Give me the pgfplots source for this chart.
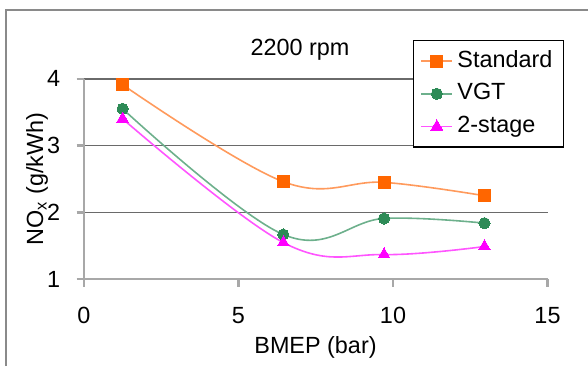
\documentclass[border=0pt]{standalone}
\usepackage{pgfplots}
\pgfplotsset{compat=1.18}
\usepackage{fontspec}
\setmainfont{Liberation Sans}
\definecolor{stdM}{HTML}{FF6600}
\definecolor{stdL}{HTML}{FF9A5C}
\definecolor{vgtM}{HTML}{2E8B57}
\definecolor{vgtL}{HTML}{6DB08C}
\definecolor{twoM}{HTML}{FF00FF}
\definecolor{twoL}{HTML}{FF55FF}
\definecolor{gridc}{HTML}{6A6A6A}
\definecolor{axc}{HTML}{A8A8A8}
\definecolor{framec}{HTML}{8A8A8A}
\begin{document}
\fontsize{11.7}{14}\selectfont
\begin{tikzpicture}
\useasboundingbox (0,0) rectangle (294pt,183pt);
\draw[framec, line width=0.7pt] (3pt,0pt) -- (3pt,178pt) -- (300pt,178pt);
\begin{axis}[
  at={(42pt,43.35pt)}, anchor=south west,
  scale only axis, width=231.75pt, height=100.3pt,
  xmin=0, xmax=15, ymin=1, ymax=4,
  xtick={0,5,10,15}, ytick={1,2,3,4},
  axis x line*=bottom, axis y line*=left,
  axis line style={axc, line width=1.1pt},
  tick align=outside, major tick length=3.75pt,
  tick style={axc, line width=1.1pt},
  ymajorgrids, major grid style={gridc, line width=0.8pt},
  /pgf/number format/assume math mode=true,
  ticklabel style={font=\fontsize{11.7}{14}\selectfont},
  xticklabel style={anchor=north, inner sep=0pt, yshift=-10pt},
  yticklabel style={anchor=east, inner sep=0pt, xshift=-8pt},
  legend style={at={(0.71,1.193)}, anchor=north west, draw=black, line width=0.6pt,
    fill=white, font=\fontsize{11.7}{14}\selectfont, row sep=0pt,
    nodes={inner sep=2.2pt, text height=9pt, text depth=3pt},
    inner xsep=3.5pt},
  legend cell align=left,
  legend image code/.code={\draw[mark repeat=2,mark phase=2,#1] plot coordinates {(0cm,0cm) (0.27cm,0cm) (0.54cm,0cm)};},
  every axis plot/.append style={line width=0.8pt, smooth, tension=0.62},
]
\addplot[stdL, mark=square*, mark size=3pt, mark options={stdM, fill=stdM, line width=0pt}]
  coordinates {(1.25,3.91) (6.45,2.46) (9.71,2.45) (12.96,2.25)};
\addlegendentry{Standard}
\addplot[vgtL, mark=*, mark size=2.8pt, mark options={vgtM, fill=vgtM, line width=0pt}]
  coordinates {(1.25,3.55) (6.45,1.67) (9.71,1.91) (12.96,1.84)};
\addlegendentry{VGT}
\addplot[twoL, mark=triangle*, mark size=3.4pt, mark options={twoM, fill=twoM, line width=0pt}]
  coordinates {(1.25,3.40) (6.45,1.55) (9.71,1.37) (12.96,1.49)};
\addlegendentry{2-stage}
\end{axis}
\node[anchor=base] at (150pt,155.5pt) {2200 rpm};
\node[anchor=base] at (157.75pt,6.5pt) {BMEP (bar)};
\node[rotate=90, anchor=base] at (21.5pt,93.5pt) {NO\textsubscript{x} (g/kWh)};
\end{tikzpicture}
\end{document}
